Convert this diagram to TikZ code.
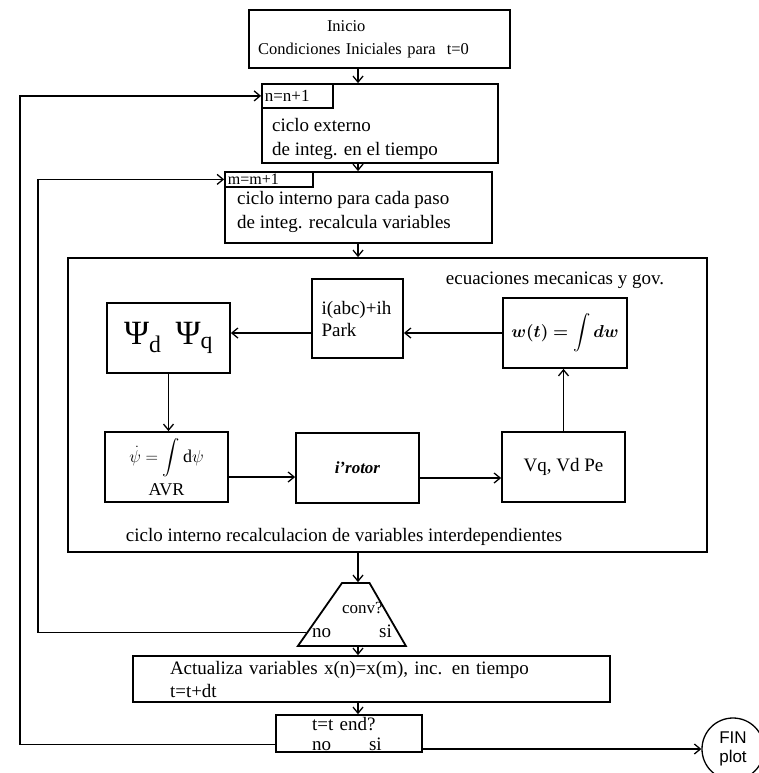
\documentclass[tikz,border=0pt]{standalone}
\usepackage{amsmath}
\usepackage{bm}
\usepackage{fontspec}
\setmainfont{Liberation Serif}
\newfontfamily\finfont{Liberation Sans}
\usetikzlibrary{shapes.geometric, arrows.meta, calc}

\begin{document}
\begin{tikzpicture}[
  x=1pt, y=-1pt,
  blk/.style  = {draw, line width=1.8pt, inner sep=0pt, align=center,
                 font=\fontsize{19}{23}\selectfont},
  lft/.style  = {blk, align=left},
  cell/.style = {draw, line width=1.6pt, inner xsep=3pt, inner ysep=0pt,
                 anchor=north west, align=left},
  lbl/.style  = {inner sep=0pt, font=\fontsize{19}{24}\selectfont},
  arr/.style  = {-{Straight Barb[length=6pt, width=10pt]}, line width=1.3pt},
]
\useasboundingbox (0,0) rectangle (758,773);

\node[lft, minimum width=261, minimum height=58, text width=243,
      font=\fontsize{16.5}{23}\selectfont] (inicio) at (379.5,39)
     {\hspace*{69pt}Inicio\\Condiciones Iniciales para\ \ t=0};

\node[blk, minimum width=236, minimum height=79] (ext) at (380,123.5) {};
\node[cell, minimum width=71, minimum height=24, text width=65,
      font=\fontsize{17}{18}\selectfont] (ncell) at (ext.north west) {n=n+1};
\node[lbl, anchor=west, align=left] (extT) at (272,139)
     {ciclo externo\\de integ. en el tiempo};

\node[blk, minimum width=267, minimum height=71] (mbox) at (358.5,207.5) {};
\node[cell, minimum width=88, minimum height=15, text width=82,
      font=\fontsize{16}{16}\selectfont] (mcell) at (mbox.north west) {m=m+1};
\node[lbl, anchor=west, align=left] (mboxT) at (237,212)
     {ciclo interno para cada paso\\de integ. recalcula variables};

\node[draw, line width=1.8pt, minimum width=639, minimum height=294] (ciclo) at (387.5,405) {};
\node[lbl] (mec) at (555,280) {ecuaciones mecanicas y gov.};
\node[lbl] (interdep) at (344,537) {ciclo interno recalculacion de variables interdependientes};

\node[blk, minimum width=123, minimum height=70, font=\fontsize{34}{40}\selectfont] (psi) at (168.5,338)
     {Ψ\textsubscript{d}\hspace{14pt}Ψ\textsubscript{q}};
\node[lft, minimum width=91, minimum height=79, text width=72,
      font=\fontsize{19}{22}\selectfont] (ibox) at (357.5,318.5) {i(abc)+ih\\Park};
\node[blk, minimum width=124, minimum height=70, font=\fontsize{17}{20}\selectfont] (wbox) at (565,333)
     {$\displaystyle \bm{w(t) =} \int \bm{dw}$};

\node[blk, minimum width=123, minimum height=70, font=\fontsize{18}{22}\selectfont] (avr) at (166.5,467)
     {$\dot{\psi}=\displaystyle\int\mathrm{d}\psi$\\[5pt]AVR};
\node[blk, minimum width=123, minimum height=70, font=\fontsize{17}{20}\selectfont] (irot) at (357.5,468)
     {\textbf{\textit{i’rotor}}};
\node[blk, minimum width=123, minimum height=70] (vq) at (563.5,467) {Vq, Vd Pe};

\node[trapezium, draw, line width=1.8pt, trapezium left angle=55, trapezium right angle=60,
      trapezium stretches body, minimum width=108, inner sep=0pt] (conv) at (355.75,614.5)
     {\rule{0pt}{63pt}};
\node[lbl, align=left] (convT) at (352,620)
     {\hspace*{30pt}{\fontsize{17}{18}\selectfont conv?}\\no\hspace{48pt}si};

\node[lft, minimum width=477, minimum height=46, text width=403] (act) at (371.5,679)
     {Actualiza variables x(n)=x(m), inc. en tiempo\\t=t+dt};
\node[lft, minimum width=146, minimum height=37, text width=74,
      font=\fontsize{19}{20}\selectfont] (tend) at (349,733.5)
     {t=t end?\\no\hspace{38pt}si};

\node[circle, draw, line width=1.3pt, minimum size=62, inner sep=0pt, align=center,
      font=\finfont\fontsize{17}{19}\selectfont] (fin) at (733,749) {FIN\\plot};

\coordinate (eje) at (358,0);
\coordinate (lazoint) at (38,0);
\coordinate (lazoext) at (20,0);
\coordinate (convno) at ($(conv.bottom left corner)!0.22!(conv.top left corner)$);

\draw[arr] (inicio.south -| eje) -- (ext.north -| eje);
\draw[arr] (ext.south -| eje) -- (mbox.north -| eje);
\draw[arr] (mbox.south -| eje) -- (ciclo.north -| eje);
\draw[arr] (ciclo.south -| eje) -- (conv.top left corner -| eje);
\draw[arr] (conv.bottom left corner -| eje) -- (act.north -| eje);
\draw[arr] (act.south -| eje) -- (tend.north -| eje);

\draw[arr] (wbox.west) -- (wbox.west -| ibox.east);
\draw[arr] (wbox.west -| ibox.west) -- (wbox.west -| psi.east);
\draw[arr] (psi.south) -- (psi.south |- avr.north);
\draw[arr] ($(avr.east)+(0,10)$) -- ($(avr.east -| irot.west)+(0,10)$);
\draw[arr] ($(irot.east)+(0,10)$) -- ($(irot.east -| vq.west)+(0,10)$);
\draw[arr] (vq.north) -- (vq.north |- wbox.south);

\draw[arr] (convno) -| (lazoint |- mcell.west) -- (mcell.west);
\draw[arr] ($(tend.west)+(0,11)$) -| (lazoext |- ncell.west) -- (ncell.west);
\draw[arr] (tend.east |- fin.west) -- (fin.west);

\end{tikzpicture}
\end{document}
